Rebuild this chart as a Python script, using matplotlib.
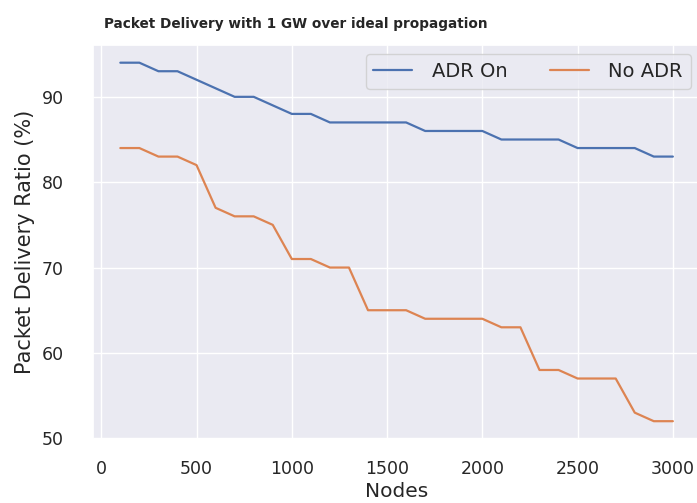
import matplotlib
matplotlib.use("Agg")
import matplotlib.pyplot as plt
import seaborn as sns

# Number of nodes in each simulation run
nodes = [100, 200, 300, 400, 500, 600, 700, 800, 900, 1000,
         1100, 1200, 1300, 1400, 1500, 1600, 1700, 1800, 1900, 2000,
         2100, 2200, 2300, 2400, 2500, 2600, 2700, 2800, 2900, 3000]

# Packet delivery ratio (%)
pdr_adr_on = [94, 94, 93, 93, 92, 91, 90, 90, 89, 88,
              88, 87, 87, 87, 87, 87, 86, 86, 86, 86,
              85, 85, 85, 85, 84, 84, 84, 84, 83, 83]
pdr_no_adr = [84, 84, 83, 83, 82, 77, 76, 76, 75, 71,
              71, 70, 70, 65, 65, 65, 64, 64, 64, 64,
              63, 63, 58, 58, 57, 57, 57, 53, 52, 52]

sns.set_theme(style="darkgrid")

fig = plt.figure(figsize=(6.97, 5.03), dpi=100)
ax = fig.add_axes([0.133, 0.127, 0.872, 0.784])

ax.plot(nodes, pdr_adr_on, label="ADR On", linewidth=1.6)
ax.plot(nodes, pdr_no_adr, label="No ADR", linewidth=1.6)

ax.set_yticks([50, 60, 70, 80, 90])
ax.tick_params(axis="both", labelsize=12.5)
ax.tick_params(axis="x", pad=9)
ax.tick_params(axis="y", pad=15)
ax.set_xlabel("Nodes", fontsize=14.5, labelpad=3)
ax.set_ylabel("Packet Delivery Ratio (%)", fontsize=15, labelpad=4.5)
ax.set_title("Packet Delivery with 1 GW over ideal propagation",
             fontsize=9.8, fontweight="bold", pad=12, x=0.335)
ax.legend(loc="upper right", ncol=2, fontsize=14, columnspacing=2.2,
          handletextpad=1.0)

fig.savefig("out.png", dpi=100)
